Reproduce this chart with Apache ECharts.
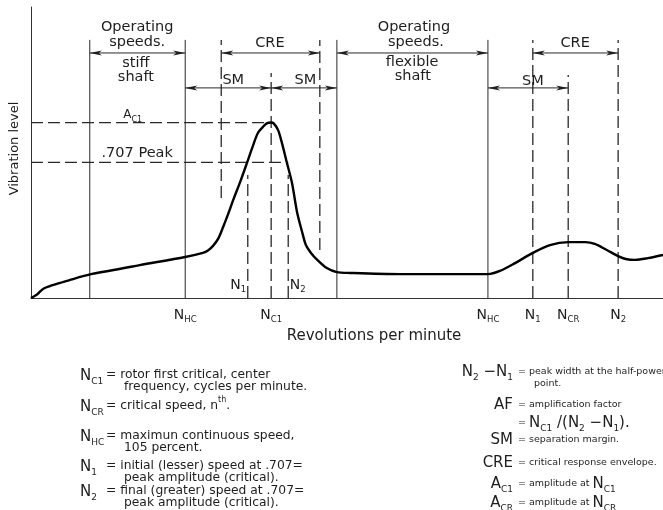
<!DOCTYPE html>
<html><head><meta charset="utf-8">
<script src="https://cdn.jsdelivr.net/npm/echarts@6/dist/echarts.min.js"></script>
<style>html,body{margin:0;padding:0;background:#fff}#c{width:663px;height:510px}</style>
</head><body><div id="c"></div>
<script>
// ---------- data (x: relative rpm 0..100, y: relative vibration level 0..100) ----------
const curveRPM   = [0, 0.95, 1.9, 3.0, 4.6, 6.5, 8.1, 9.5, 17.2, 24.4, 27.2, 28.0, 28.8, 29.6, 30.4, 31.2, 32.0, 33.1, 34.2, 35.1, 35.9, 36.7, 37.3, 38.0, 38.4, 39.1, 39.7, 40.5, 41.3, 42.1, 42.9, 43.5, 44.3, 45.3, 46.8, 48.4, 50.5, 58.4, 66.3, 72.3, 74.2, 76.6, 79.4, 82.1, 85.0, 87.7, 89.2, 91.1, 92.9, 94.1, 95.6, 97.6, 100];
const curveLevel = [0, 1.2, 3.1, 4.1, 5.2, 6.4, 7.4, 8.2, 11.3, 14.1, 15.5, 16.3, 17.9, 20.3, 24.4, 28.9, 33.7, 39.9, 46.6, 52.2, 56.7, 58.8, 60.0, 60.3, 60.0, 57.7, 53.3, 46.4, 39.5, 29.5, 22.7, 18.2, 15.5, 13.1, 10.3, 8.9, 8.6, 8.2, 8.2, 8.2, 9.3, 12.0, 15.5, 18.2, 19.2, 19.2, 18.6, 16.5, 14.4, 13.4, 13.1, 13.7, 14.8];

const axisTickRPM   = [24.4, 38.0, 72.3, 79.4, 85.0, 92.9];
const axisTickNames = ['N_HC', 'N_C1', 'N_HC', 'N_1', 'N_CR', 'N_2'];

const solidGuideRPM = [9.3, 24.4, 48.4, 72.3];
const guideTopLevel = 88.7;

const dashRPM  = [30.1, 34.3, 38.0, 40.7, 45.7, 79.4, 85.0, 92.9];
const dashLow  = [34.4, 0, 0, 0, 16.5, 0, 0, 0];
const dashHigh = [88.7, 42.3, 77.3, 42.3, 88.7, 88.7, 76.6, 88.7];

const refLevel  = [60.3, 46.6];   // A_C1 and .707 peak
const refEndRPM = [38.0, 40.7];

const arrowFrom  = [9.3, 30.1, 24.4, 38.0, 48.4, 72.3, 79.4];
const arrowTo    = [24.4, 45.7, 38.0, 48.4, 72.3, 85.0, 92.9];
const arrowLevel = [84.2, 84.2, 72.2, 72.2, 84.2, 72.2, 84.2];

const noteText  = ['Operating', 'speeds.', 'stiff', 'shaft', 'CRE', 'SM', 'SM', 'A_C1', '.707 Peak', 'N_1', 'N_2', 'Operating', 'speeds.', 'flexible', 'shaft', 'SM', 'CRE'];
const noteRPM   = [16.8, 16.8, 16.6, 16.6, 37.8, 32.0, 43.4, 16.1, 16.8, 32.8, 42.2, 60.6, 60.9, 60.3, 60.4, 79.4, 86.1];
const noteLevel = [93.1, 88.0, 80.8, 75.9, 87.6, 74.9, 74.9, 62.9, 49.8, 4.5, 4.5, 93.1, 88.0, 81.1, 76.3, 74.6, 87.6];

const legendLeftSym   = ['N_C1', 'N_CR', 'N_HC', 'N_1', 'N_2'];
const legendLeftLine1 = ['= rotor first critical, center', '= critical speed, n^th.', '= maximun continuous speed,', '= initial (lesser) speed at .707=', '= final (greater) speed at .707='];
const legendLeftLine2 = ['frequency, cycles per minute.', '', '105 percent.', 'peak amplitude (critical).', 'peak amplitude (critical).'];

const legendRightSym   = ['N_2 \u2212N_1', 'AF', '', 'SM', 'CRE', 'A_C1', 'A_CR'];
const legendRightLine1 = ['= peak width at the half-power', '= amplification factor', 'N_C1 /(N_2 \u2212N_1).', '= separation margin.', '= critical response envelope.', '= amplitude at N_C1', '= amplitude at N_CR'];
const legendRightLine2 = ['point.', '', '', '', '', '', ''];

// ---------- layout / style ----------
const FONT = 'DejaVu Sans';
const INK = '#1e1e1e';
const leftRowY  = [376, 407, 437, 467, 492];
const rightRowY = [372, 405, 423, 440, 463, 484, 503];

function toRich(str, tk) {
  const re = /([A-Z])_([A-Za-z0-9]+)|\^([a-z]+)/g;
  let out = '', last = 0, m;
  while ((m = re.exec(str))) {
    if (m.index > last) out += '{' + tk.t + '|' + str.slice(last, m.index) + '}';
    if (m[1]) out += '{' + tk.n + '|' + m[1] + '}{' + tk.s + '|' + m[2] + '}';
    else out += '{' + tk.u + '|' + m[3] + '}';
    last = re.lastIndex;
  }
  if (last < str.length) out += '{' + tk.t + '|' + str.slice(last) + '}';
  return out;
}
function st(size, extra) {
  return Object.assign({fontSize: size, fontFamily: FONT, color: INK, opacity: 1, lineHeight: 18, verticalAlign: 'middle'}, extra || {});
}
const RICH = {
  t:  st(14.5),
  n:  st(14),
  s:  st(8.5, {verticalAlign: 'bottom', lineHeight: 9}),
  an: st(12),
  as: st(8, {verticalAlign: 'bottom', lineHeight: 9}),
  ln: st(15, {lineHeight: 20}),
  ls: st(9, {verticalAlign: 'bottom', lineHeight: 9}),
  lt: st(12.3, {lineHeight: 20}),
  lu: st(8, {verticalAlign: 'top', lineHeight: 10}),
  rt: st(9.5, {lineHeight: 20})
};
const TK_NOTE = {t: 't', n: 'n', s: 's', u: 's'};
const TK_SYM  = {t: 'ln', n: 'ln', s: 'ls', u: 'lu'};
const TK_LD   = {t: 'lt', n: 'ln', s: 'ls', u: 'lu'};
const TK_RD   = {t: 'rt', n: 'ln', s: 'ls', u: 'lu'};

const curveData = curveRPM.map((x, i) => [x, curveLevel[i]]);
const guideData = [];
solidGuideRPM.forEach(x => guideData.push([x, 0, x, guideTopLevel, 0]));
dashRPM.forEach((x, i) => guideData.push([x, dashLow[i], x, dashHigh[i], 1]));
refLevel.forEach((y, i) => guideData.push([0, y, refEndRPM[i], y, 1]));
const arrowData = arrowFrom.map((x, i) => [x, arrowTo[i], arrowLevel[i]]);
const noteData = noteText.map((t, i) => ({value: [noteRPM[i], noteLevel[i]], name: t}));

function txt(x, y, rich, align) {
  return {type: 'text', x: x, y: y, silent: true,
    style: {text: rich, rich: RICH, fill: INK, align: align || 'left', verticalAlign: 'middle',
            textAlign: align || 'left', textVerticalAlign: 'middle', font: '11px ' + FONT}};
}
const graphics = [];
legendLeftSym.forEach((s, i) => {
  graphics.push(txt(80, leftRowY[i], toRich(s, TK_SYM)));
  graphics.push(txt(106, leftRowY[i] - 1, toRich(legendLeftLine1[i], TK_LD)));
  if (legendLeftLine2[i]) graphics.push(txt(124, leftRowY[i] + 11, toRich(legendLeftLine2[i], TK_LD)));
});
legendRightSym.forEach((s, i) => {
  if (s) graphics.push(txt(513, rightRowY[i], toRich(s, TK_SYM), 'right'));
  if (legendRightSym[i] === '' ) {
    graphics.push(txt(518, rightRowY[i], '{rt|= }' + toRich(legendRightLine1[i], TK_SYM)));
  } else {
    graphics.push(txt(518, rightRowY[i], toRich(legendRightLine1[i], TK_RD)));
  }
  if (legendRightLine2[i]) graphics.push(txt(534, rightRowY[i] + 12, toRich(legendRightLine2[i], TK_RD)));
});

const chart = echarts.init(document.getElementById('c'), null, {renderer: 'canvas'});
chart.setOption({
  animation: false,
  backgroundColor: '#fff',
  grid: {left: 31, right: 0, top: 7, bottom: 212},
  xAxis: {
    type: 'value', min: 0, max: 100,
    splitLine: {show: false}, axisTick: {show: false},
    axisLine: {lineStyle: {color: '#333', width: 1}},
    axisLabel: {
      customValues: axisTickRPM, margin: 8, rich: RICH,
      formatter: v => { const i = axisTickRPM.indexOf(v); return i < 0 ? '' : toRich(axisTickNames[i], TK_NOTE); }
    },
    name: 'Revolutions per minute', nameLocation: 'middle', nameGap: 31,
    nameTextStyle: {fontFamily: FONT, fontSize: 15, color: INK, padding: [0, 0, 0, 54]}
  },
  yAxis: {
    type: 'value', min: 0, max: 100,
    splitLine: {show: false}, axisTick: {show: false}, axisLabel: {show: false},
    axisLine: {lineStyle: {color: '#333', width: 1}},
    name: 'Vibration level', nameLocation: 'middle', nameGap: 10, nameRotate: 90,
    nameTextStyle: {fontFamily: FONT, fontSize: 13, color: INK, padding: [0, 0, 0, 8]}
  },
  graphic: graphics,
  series: [
    {
      type: 'custom', name: 'guides', silent: true, z: 2,
      data: guideData,
      renderItem: (p, api) => {
        const a = api.coord([api.value(0), api.value(1)]);
        const b = api.coord([api.value(2), api.value(3)]);
        const dashed = api.value(4) === 1;
        return {type: 'line', shape: {x1: a[0], y1: a[1], x2: b[0], y2: b[1]},
          style: {stroke: '#2a2a2a', lineWidth: dashed ? 1.3 : 1, lineDash: dashed ? [12, 5] : null}};
      }
    },
    {
      type: 'custom', name: 'arrows', silent: true, z: 3,
      data: arrowData,
      renderItem: (p, api) => {
        const a = api.coord([api.value(0), api.value(2)]);
        const b = api.coord([api.value(1), api.value(2)]);
        const L = 12, W = 2.5;
        return {type: 'group', children: [
          {type: 'line', shape: {x1: a[0], y1: a[1], x2: b[0], y2: b[1]}, style: {stroke: '#2a2a2a', lineWidth: 1}},
          {type: 'polygon', shape: {points: [[a[0], a[1]], [a[0] + L, a[1] - W], [a[0] + L - 3, a[1]], [a[0] + L, a[1] + W]]}, style: {fill: '#1e1e1e'}},
          {type: 'polygon', shape: {points: [[b[0], b[1]], [b[0] - L, b[1] - W], [b[0] - L + 3, b[1]], [b[0] - L, b[1] + W]]}, style: {fill: '#1e1e1e'}}
        ]};
      }
    },
    {
      type: 'line', name: 'Vibration', data: curveData, smooth: 0.3, symbol: 'none', z: 5,
      lineStyle: {color: '#000', width: 2.4}
    },
    {
      type: 'scatter', name: 'notes', data: noteData, symbolSize: 0, silent: true, z: 6,
      itemStyle: {opacity: 1},
      label: {show: true, position: 'inside', rich: RICH, opacity: 1, color: INK,
        formatter: p => p.name === 'A_C1' ? toRich(p.name, {t: 'an', n: 'an', s: 'as', u: 'as'}) : toRich(p.name, TK_NOTE)}
    }
  ]
});
</script></body></html>
